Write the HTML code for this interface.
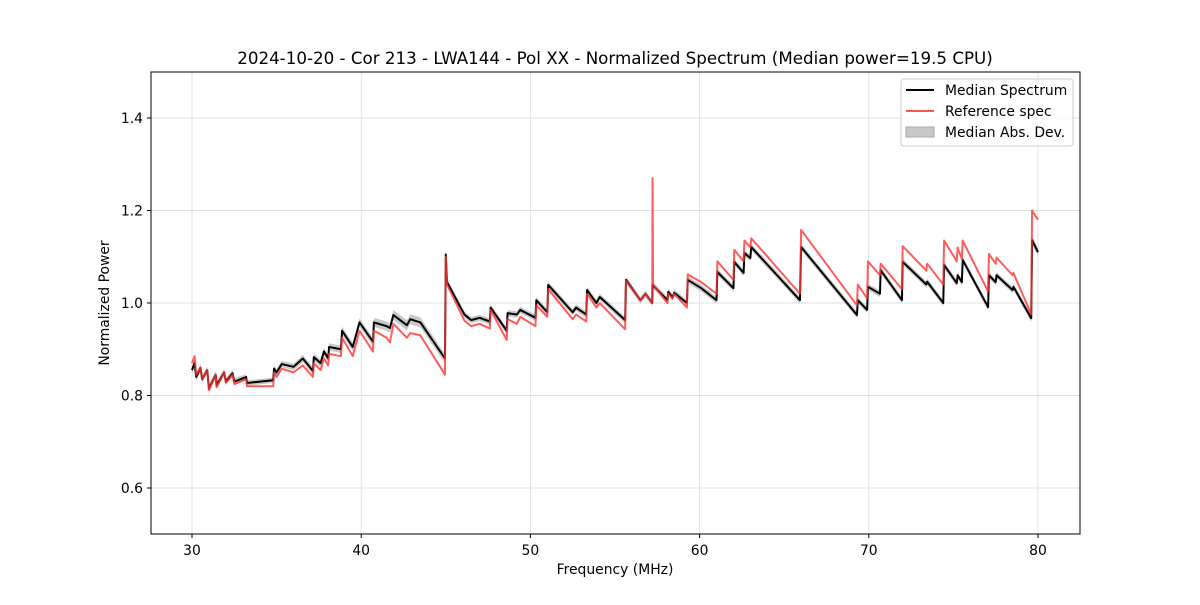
<!DOCTYPE html>
<html><head><meta charset="utf-8"><style>
body{margin:0;background:#fff;}
svg text{font-family:"DejaVu Sans","Liberation Sans",sans-serif;fill:#000;}
</style></head><body>
<svg id="chart" width="1200" height="600" xmlns="http://www.w3.org/2000/svg">
<rect width="1200" height="600" fill="#fff"/>
<text x="615" y="64" font-size="16.7" text-anchor="middle">2024-10-20 - Cor 213 - LWA144 - Pol XX - Normalized Spectrum (Median power=19.5 CPU)</text>
<g id="grid"></g>
<g id="plot"></g>
<rect x="151" y="72" width="929" height="462" fill="none" stroke="#000" stroke-width="1"/>
<g id="ticks"></g>
<text x="615" y="574" font-size="13.9" text-anchor="middle">Frequency (MHz)</text>
<text x="109" y="303" font-size="13.9" text-anchor="middle" transform="rotate(-90 109 303)">Normalized Power</text>
<g>
<rect x="901" y="79" width="172" height="67" rx="3" fill="#fff" fill-opacity="0.8" stroke="#ccc"/>
<line x1="906" y1="90" x2="934" y2="90" stroke="#000" stroke-width="2"/>
<text x="945" y="95" font-size="13.9">Median Spectrum</text>
<line x1="906" y1="111" x2="934" y2="111" stroke="#ff5555" stroke-width="2"/>
<text x="945" y="116" font-size="13.9">Reference spec</text>
<rect x="906" y="127" width="28" height="10" fill="#c8c8c8" stroke="#aaa"/>
<text x="945" y="137" font-size="13.9">Median Abs. Dev.</text>
</g>
</svg>
<script>
const freqs=[30.0,30.15,30.25,30.5,30.6,30.9,31.0,31.4,31.45,31.9,32.0,32.4,32.5,33.2,33.25,34.8,34.85,35.0,35.3,36.0,36.55,37.15,37.2,37.6,37.8,38.05,38.1,38.8,38.87,39.5,39.9,40.7,40.75,41.5,41.7,41.9,42.7,42.9,43.5,44.95,45.0,45.07,46.1,46.5,47.0,47.6,47.65,48.6,48.65,49.2,49.4,50.3,50.35,51.0,51.05,52.5,52.7,53.3,53.35,53.9,54.1,55.6,55.65,56.5,56.8,57.2,57.22,57.25,58.1,58.15,58.4,58.5,59.25,59.3,60.1,61.0,61.05,62.0,62.05,62.6,62.65,63.0,63.05,65.93,66.0,69.3,69.35,69.9,69.95,70.66,70.7,71.96,72.0,73.4,73.45,74.4,74.45,75.2,75.25,75.5,75.55,77.05,77.1,77.5,77.55,78.5,78.55,79.6,79.65,80.0];
const median=[.855,.87,.84,.86,.835,.855,.815,.845,.822,.85,.83,.848,.83,.84,.827,.833,.858,.85,.868,.862,.88,.853,.883,.87,.895,.88,.905,.9,.94,.905,.958,.916,.958,.95,.946,.974,.952,.965,.958,.88,1.105,1.045,.975,.963,.968,.96,.99,.94,.978,.975,.985,.968,1.006,.98,1.039,.98,.99,.975,1.028,1.0,1.013,.963,1.05,1.006,1.02,1.0,1.039,1.038,1.006,1.024,1.012,1.022,1.0,1.05,1.032,1.006,1.067,1.032,1.089,1.065,1.108,1.097,1.121,1.006,1.121,.974,1.006,.985,1.035,1.02,1.071,1.006,1.089,1.04,1.046,1.0,1.082,1.043,1.06,1.045,1.093,.991,1.06,1.045,1.06,1.028,1.035,.967,1.136,1.11];
const reference=[.87,.885,.845,.86,.835,.855,.812,.845,.818,.85,.828,.845,.825,.835,.82,.82,.85,.84,.858,.85,.865,.84,.87,.855,.88,.865,.89,.885,.925,.885,.94,.895,.94,.925,.915,.955,.925,.935,.93,.845,1.1,1.04,.962,.95,.955,.945,.985,.92,.965,.955,.97,.95,.995,.97,1.03,.965,.975,.96,1.02,.99,1.0,.943,1.048,1.006,1.02,1.0,1.27,1.04,1.0,1.02,1.01,1.02,.99,1.062,1.045,1.02,1.09,1.05,1.115,1.09,1.135,1.12,1.14,1.02,1.158,.995,1.04,1.01,1.09,1.06,1.085,1.03,1.123,1.07,1.085,1.04,1.135,1.09,1.12,1.095,1.135,1.025,1.106,1.085,1.098,1.06,1.065,.975,1.2,1.18];
const madDev=[.008,.008,.008,.008,.008,.008,.008,.008,.008,.008,.008,.008,.008,.006,.006,.006,.007,.007,.007,.007,.008,.008,.008,.008,.008,.008,.008,.008,.009,.009,.009,.009,.01,.01,.01,.011,.011,.011,.011,.01,.008,.008,.007,.007,.007,.007,.007,.007,.007,.007,.007,.007,.007,.007,.007,.007,.007,.007,.007,.007,.007,.007,.007,.007,.007,.007,.007,.007,.007,.007,.007,.007,.007,.007,.007,.007,.007,.007,.007,.007,.007,.007,.007,.007,.007,.007,.007,.007,.007,.007,.007,.007,.007,.007,.007,.007,.007,.007,.007,.007,.007,.007,.007,.007,.007,.007,.007,.008,.009,.009];
const xTicks=[30,40,50,60,70,80];
const yTicks=[0.6,0.8,1.0,1.2,1.4];
const yTickLabels=["0.6","0.8","1.0","1.2","1.4"];
const NS="http://www.w3.org/2000/svg";
const xs=f=>192+(f-30)*(846/50);
const ys=v=>534.25-(v-0.5)*462.5;
function mk(tag,attrs,parent){const e=document.createElementNS(NS,tag);for(const k in attrs)e.setAttribute(k,attrs[k]);parent.appendChild(e);return e;}
const grid=document.getElementById('grid'),plot=document.getElementById('plot'),ticks=document.getElementById('ticks');
xTicks.forEach(t=>{
  const g=mk('line',{x1:xs(t),x2:xs(t),y1:72,y2:534,stroke:'#e0e0e0','stroke-width':1},grid);
  
  
  const l=mk('line',{x1:xs(t),x2:xs(t),y1:534,y2:538,stroke:'#000'},ticks);
  
  
  const tx=mk('text',{x:xs(t),y:555,'font-size':13.9,'text-anchor':'middle'},ticks);
  tx.textContent=t;
  
  
});
yTicks.forEach((t,i)=>{
  const g=mk('line',{x1:151,x2:1080,y1:ys(t),y2:ys(t),stroke:'#e0e0e0','stroke-width':1},grid);
  
  
  const l=mk('line',{x1:147,x2:151,y1:ys(t),y2:ys(t),stroke:'#000'},ticks);
  
  
  const tx=mk('text',{x:143,y:ys(t)+5,'font-size':13.9,'text-anchor':'end'},ticks);
  tx.textContent=yTickLabels[i];
  
  
});
let up=freqs.map((f,i)=>xs(f)+','+ys(median[i]+madDev[i]));
let dn=freqs.map((f,i)=>xs(f)+','+ys(median[i]-madDev[i])).reverse();
const band=mk('polygon',{points:up.concat(dn).join(' '),fill:'#bbb','fill-opacity':0.8},plot);


const ml=mk('polyline',{points:freqs.map((f,i)=>xs(f)+','+ys(median[i])).join(' '),fill:'none',stroke:'#000','stroke-width':2,'stroke-linejoin':'round'},plot);


const rl=mk('polyline',{points:freqs.map((f,i)=>xs(f)+','+ys(reference[i])).join(' '),fill:'none',stroke:'#ff3333','stroke-opacity':0.8,'stroke-width':2,'stroke-linejoin':'round'},plot);


</script>
</body></html>
